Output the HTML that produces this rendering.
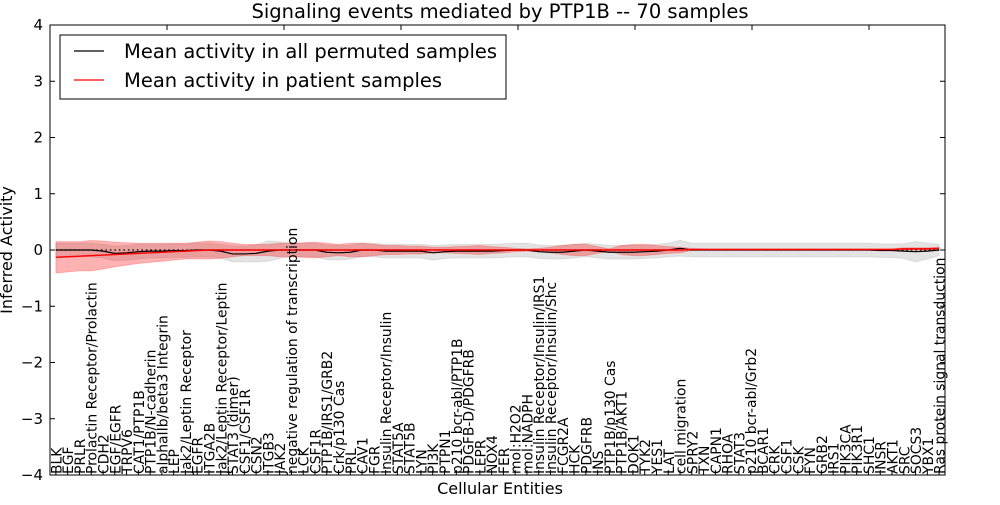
<!DOCTYPE html>
<html><head><meta charset="utf-8"><style>
body{margin:0;background:#fff}
svg{font-family:"DejaVu Sans","Liberation Sans",sans-serif}
</style></head><body>
<svg id="chart" width="1000" height="500" xmlns="http://www.w3.org/2000/svg">
<text x="500" y="18" text-anchor="middle" font-size="19.5">Signaling events mediated by PTP1B -- 70 samples</text>
<g id="plot"></g>
<text transform="translate(12,250) rotate(-90)" text-anchor="middle" font-size="16">Inferred Activity</text>
<text x="500" y="494" text-anchor="middle" font-size="16">Cellular Entities</text>
<g>
<rect x="60" y="35" width="446" height="64" fill="#fff" stroke="#000"/>
<line x1="74" y1="51" x2="104" y2="51" stroke="#000" stroke-width="1.2"/>
<text x="124" y="58" font-size="19.5">Mean activity in all permuted samples</text>
<line x1="74" y1="80" x2="104" y2="80" stroke="#f00" stroke-width="1.2"/>
<text x="124" y="87" font-size="19.5">Mean activity in patient samples</text>
</g>
</svg>
<script>
const categories=["BLK","EGF","PRLR","Prolactin Receptor/Prolactin","CDH2","EGF/EGFR","TRPV6","CAT1/PTP1B","PTP1B/N-cadherin","alphaIIb/beta3 Integrin","LEP","Jak2/Leptin Receptor","EGFR","ITGA2B","Jak2/Leptin Receptor/Leptin","STAT3 (dimer)","CSF1/CSF1R","CSN2","ITGB3","JAK2","negative regulation of transcription","LCK","CSF1R","PTP1B/IRS1/GRB2","Crk/p130 Cas","PRL","CAV1","FGR","Insulin Receptor/Insulin","STAT5A","STAT5B","LYN","PI3K","PTPN1","p210 bcr-abl/PTP1B","PDGFB-D/PDGFRB","LEPR","NOX4","FER","mol:H2O2","mol:NADPH","Insulin Receptor/Insulin/IRS1","Insulin Receptor/Insulin/Shc","FCGR2A","HCK","PDGFRB","INS","PTP1B/p130 Cas","PTP1B/AKT1","DOK1","TYK2","YES1","LAT","cell migration","SPRY2","TXN","CAPN1","RHOA","STAT3","p210 bcr-abl/Grb2","BCAR1","CRK","CSF1","CSK","FYN","GRB2","IRS1","PIK3CA","PIK3R1","SHC1","INSR","AKT1","SRC","SOCS3","YBX1","Ras protein signal transduction"];
const permMean=[0,0,0,0,-0.02,-0.06,-0.05,-0.03,-0.02,-0.02,-0.01,-0.01,0,0,-0.02,-0.07,-0.07,-0.06,-0.02,0,0,0,0,-0.04,-0.05,-0.04,0,0,-0.02,-0.02,-0.02,-0.02,-0.05,-0.03,-0.02,-0.02,-0.02,-0.02,-0.01,0,0,-0.03,-0.04,-0.04,-0.02,0,-0.02,-0.04,-0.04,-0.04,-0.03,-0.02,0,0.03,0,0,0,0,0,0,0,0,0,0,0,0,0,0,0,0,-0.01,-0.01,-0.02,-0.03,-0.02,0];
const permSd=[0.12,0.12,0.12,0.12,0.12,0.13,0.13,0.13,0.12,0.12,0.12,0.12,0.12,0.12,0.12,0.14,0.14,0.15,0.18,0.15,0.12,0.12,0.12,0.13,0.13,0.12,0.12,0.12,0.12,0.12,0.12,0.12,0.13,0.12,0.12,0.12,0.12,0.12,0.12,0.12,0.12,0.12,0.12,0.12,0.12,0.12,0.12,0.12,0.12,0.12,0.12,0.12,0.12,0.14,0.12,0.12,0.12,0.12,0.12,0.12,0.12,0.12,0.12,0.12,0.12,0.12,0.12,0.12,0.12,0.12,0.12,0.12,0.13,0.18,0.14,0.1];
const patMean=[-0.13,-0.12,-0.11,-0.1,-0.09,-0.08,-0.07,-0.06,-0.05,-0.04,-0.03,-0.02,-0.01,0,0,0,0,0,0,0,0,0,0,0,0,0,0,0,0,0,0,0,0,0,0,0,0,0,0,0,0,0,0,0,0,0,0,0,0,0,0,0,0,0,0.01,0.01,0.01,0.01,0.01,0.01,0.01,0.01,0.01,0.01,0.01,0.01,0.01,0.01,0.01,0.01,0.01,0.01,0.02,0.02,0.02,0.03];
const patSd=[0.28,0.27,0.26,0.27,0.25,0.22,0.2,0.18,0.17,0.16,0.15,0.14,0.15,0.16,0.15,0.12,0.1,0.1,0.1,0.12,0.12,0.13,0.14,0.12,0.1,0.12,0.12,0.1,0.08,0.08,0.07,0.07,0.05,0.05,0.06,0.07,0.08,0.06,0.05,0.03,0.02,0.03,0.05,0.08,0.1,0.1,0.06,0.02,0.08,0.1,0.1,0.08,0.06,0.05,0.02,0.01,0.01,0.01,0.01,0.01,0.01,0.01,0.01,0.01,0.01,0.01,0.01,0.01,0.01,0.01,0.01,0.01,0.02,0.02,0.02,0.02];
const yTicks=[4,3,2,1,0,-1,-2,-3,-4];

const L=50,R=945,T=25,B=475,NS="http://www.w3.org/2000/svg";
const n=categories.length;
const xs=i=>L+(i+0.5)*(R-L)/n;
const ys=v=>T+(4-v)*(B-T)/8;
const g=document.getElementById('plot');
function mk(tag,attrs){const e=document.createElementNS(NS,tag);for(const k in attrs)e.setAttribute(k,attrs[k]);g.appendChild(e);return e;}
function band(m,s){let up=m.map((v,i)=>xs(i)+','+ys(v+s[i]));let dn=m.map((v,i)=>xs(i)+','+ys(v-s[i])).reverse();return up.concat(dn).join(' ');}
function line(m){return m.map((v,i)=>xs(i)+','+ys(v)).join(' ');}
let e;
e=mk('polygon',{points:band(permMean,permSd),fill:'#c8c8c8','fill-opacity':0.5,stroke:'#bbb','stroke-opacity':0.4});


e=mk('polygon',{points:band(patMean,patSd),fill:'#f00','fill-opacity':0.3,stroke:'#f00','stroke-opacity':0.2});


e=mk('line',{x1:xs(0),x2:xs(n-1),y1:ys(0),y2:ys(0),stroke:'#000','stroke-dasharray':'1.5,3','stroke-width':1.2});


e=mk('polyline',{points:line(permMean),fill:'none',stroke:'#000','stroke-width':1.2});


e=mk('polyline',{points:line(patMean),fill:'none',stroke:'#f00','stroke-width':1.5});


e=mk('rect',{x:L,y:T,width:R-L,height:B-T,fill:'none',stroke:'#000'});


yTicks.forEach(t=>{const y=ys(t);
 let a=mk('line',{x1:L,x2:L+5,y1:y,y2:y,stroke:'#000'});
 
 
 let b=mk('line',{x1:R-5,x2:R,y1:y,y2:y,stroke:'#000'});
 
 
 let tx=mk('text',{x:L-7,y:y+5,'text-anchor':'end','font-size':15});
 tx.textContent=(t<0?'\u2212'+(-t):String(t));
 
 
});
for(let k=1;k<=7;k++){const x=L+k*117;
 let a=mk('line',{x1:x,x2:x,y1:T,y2:T+5,stroke:'#000'});
 
 }
categories.forEach((c,i)=>{const x=xs(i);
 let tk=mk('line',{x1:x,x2:x,y1:B,y2:B-5,stroke:'#000'});
 
 
 let t=mk('text',{transform:`translate(${x+5.5},${B-1}) rotate(-90)`,'font-size':13.9});
 t.textContent=c;
 
 
});
</script>
</body></html>
